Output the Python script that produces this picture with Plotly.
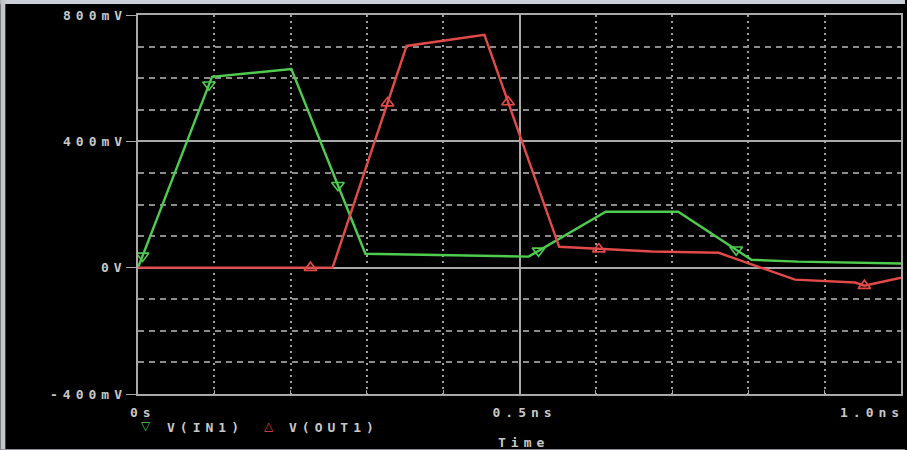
import numpy as np
import plotly.graph_objects as go

# Transient simulation traces: time in ns, voltage in mV
in1_t = [0.0, 0.097, 0.201, 0.298, 0.512, 0.613, 0.708, 0.804, 0.865, 1.0]
in1_v = [0, 604, 629, 44, 35, 177, 177, 25, 19, 13]

out1_t = [0.0, 0.255, 0.352, 0.454, 0.552, 0.617, 0.674, 0.761, 0.861, 0.940, 0.952, 1.0]
out1_v = [0, 0, 702, 737, 66, 57, 51, 47, -38, -47, -57, -32]

# Times at which the trace symbols are drawn
in1_mark_t = [0.006, 0.093, 0.262, 0.525, 0.784]
out1_mark_t = [0.226, 0.327, 0.485, 0.604, 0.952]

x_ticks = [0.0, 0.5, 1.0]
x_labels = ["0s", "0.5ns", "1.0ns"]
y_ticks = [-400, 0, 400, 800]
y_labels = ["-400mV", "0V", "400mV", "800mV"]

GREEN = "#4fcb4f"
RED = "#e24a4a"
TXT = "#c8c8c8"
AXIS = "#a9a9a9"
FONT = dict(family="DejaVu Sans Mono", size=13, color=TXT, weight="bold")

W, H = 907, 450
L, R, T, B = 138, 4, 15, 56
PW, PH = W - L - R, H - T - B


def px(x):
    return (x - L) / PW


def py(y):
    return (H - B - y) / PH


fig = go.Figure()
fig.add_trace(go.Scatter(x=in1_t, y=in1_v, mode="lines",
                         line=dict(color=GREEN, width=2.4), name="V(IN1)"))
fig.add_trace(go.Scatter(x=out1_t, y=out1_v, mode="lines",
                         line=dict(color=RED, width=2.4), name="V(OUT1)"))
fig.add_trace(go.Scatter(x=in1_mark_t, y=np.interp(in1_mark_t, in1_t, in1_v),
                         mode="markers",
                         marker=dict(symbol="triangle-down-open", size=11,
                                     color=GREEN, line=dict(width=1.6, color=GREEN))))
fig.add_trace(go.Scatter(x=out1_mark_t, y=np.interp(out1_mark_t, out1_t, out1_v),
                         mode="markers",
                         marker=dict(symbol="triangle-up-open", size=11,
                                     color=RED, line=dict(width=1.6, color=RED))))

ann = []
# y tick labels
for v, lab in zip(y_ticks, y_labels):
    ann.append(dict(x=px(129), xref="paper", y=v, yref="y", text=lab,
                    xanchor="right", align="right", yanchor="middle",
                    showarrow=False, font=FONT))
# x tick labels
ann.append(dict(x=px(143), xref="paper", y=py(412), yref="paper", text=x_labels[0],
                xanchor="center", yanchor="middle", showarrow=False, font=FONT))
ann.append(dict(x=px(526), xref="paper", y=py(412), yref="paper", text=x_labels[1],
                xanchor="center", yanchor="middle", showarrow=False, font=FONT))
ann.append(dict(x=px(908), xref="paper", y=py(412), yref="paper", text=x_labels[2],
                xanchor="right", align="right", yanchor="middle", showarrow=False, font=FONT))
# axis title
ann.append(dict(x=px(525), xref="paper", y=py(442), yref="paper", text="Time",
                xanchor="center", yanchor="middle", showarrow=False, font=FONT))
# trace legend
ann.append(dict(x=px(146), xref="paper", y=py(426), yref="paper", text="▽",
                xanchor="center", yanchor="middle", showarrow=False,
                font=dict(family="DejaVu Sans", size=12, color=GREEN)))
ann.append(dict(x=px(165), xref="paper", y=py(427), yref="paper", text="V(IN1)",
                xanchor="left", align="left", yanchor="middle", showarrow=False, font=FONT))
ann.append(dict(x=px(269), xref="paper", y=py(426), yref="paper", text="△",
                xanchor="center", yanchor="middle", showarrow=False,
                font=dict(family="DejaVu Sans", size=12, color=RED)))
ann.append(dict(x=px(287), xref="paper", y=py(427), yref="paper", text="V(OUT1)",
                xanchor="left", align="left", yanchor="middle", showarrow=False, font=FONT))

# window frame strips around the plot
shapes = [
    dict(type="rect", xref="paper", yref="paper", x0=px(0), x1=px(W), y0=py(4), y1=py(0),
         fillcolor="#c9d0d8", line_width=0, layer="above"),
    dict(type="rect", xref="paper", yref="paper", x0=px(0), x1=px(5), y0=py(H), y1=py(0),
         fillcolor="#c4c6c9", line_width=0, layer="above"),
    dict(type="rect", xref="paper", yref="paper", x0=px(0), x1=px(W), y0=py(H), y1=py(449),
         fillcolor="#8d8f92", line_width=0, layer="above"),
]

fig.update_layout(
    width=W, height=H,
    margin=dict(l=L, r=R, t=T, b=B),
    paper_bgcolor="black", plot_bgcolor="black",
    showlegend=False,
    annotations=ann, shapes=shapes,
    xaxis=dict(range=[0, 1], tickvals=x_ticks, showticklabels=False,
               showline=True, linecolor=AXIS, linewidth=1.5, mirror=True,
               showgrid=True, gridcolor=AXIS, gridwidth=1.5, zeroline=False,
               ticks="inside", ticklen=4, tickcolor=AXIS,
               minor=dict(dtick=0.1, showgrid=True, gridcolor="#a0a0a0",
                          griddash="2px,4px", gridwidth=1.5,
                          ticks="inside", ticklen=4, tickcolor=AXIS)),
    yaxis=dict(range=[-400, 800], tickvals=y_ticks, showticklabels=False,
               showline=True, linecolor=AXIS, linewidth=1.5, mirror=True,
               showgrid=True, gridcolor=AXIS, gridwidth=1.5, zeroline=False,
               ticks="outside", ticklen=10, tickcolor=AXIS,
               minor=dict(dtick=100, showgrid=True, gridcolor="#8c8c8c",
                          griddash="6px,5px", gridwidth=1.5, ticks="")),
)

# widen the character pitch of the multi-character labels
spacing_js = """
document.querySelectorAll('.annotation-text').forEach(function (t) {
  if (t.textContent.length > 1) { t.style.letterSpacing = '5px'; }
});
"""
fig.write_html("out.html", post_script=spacing_js)
